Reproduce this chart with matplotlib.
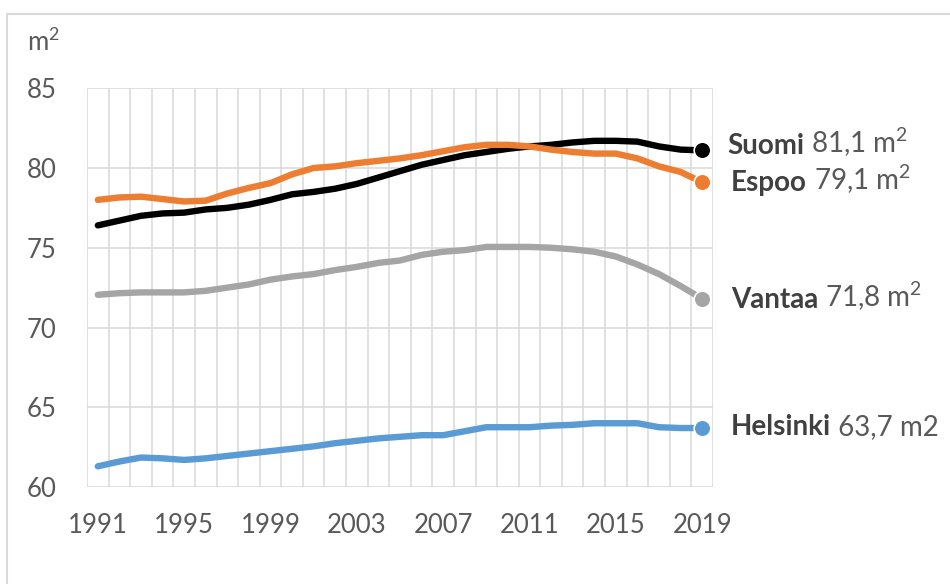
"""
Asumisväljyys (m2 / asunto), Suomi ja pääkaupunkiseudun kaupungit 1991-2019
"""

import matplotlib
matplotlib.use("Agg")
import matplotlib.pyplot as plt
from matplotlib.patches import Rectangle

years = list(range(1991, 2020))

suomi = [76.4, 76.7, 77.0, 77.15, 77.2, 77.4, 77.5, 77.7, 78.0, 78.35,
         78.5, 78.7, 79.0, 79.4, 79.8, 80.2, 80.5, 80.8, 81.0, 81.2,
         81.35, 81.45, 81.6, 81.7, 81.7, 81.65, 81.35, 81.15, 81.1]
espoo = [78.0, 78.15, 78.2, 78.05, 77.9, 77.95, 78.4, 78.75, 79.05, 79.6,
         80.0, 80.1, 80.3, 80.45, 80.6, 80.8, 81.05, 81.3, 81.45, 81.45,
         81.35, 81.15, 81.0, 80.9, 80.9, 80.6, 80.1, 79.75, 79.1]
vantaa = [72.05, 72.15, 72.2, 72.2, 72.2, 72.3, 72.5, 72.7, 73.0, 73.2,
          73.35, 73.6, 73.8, 74.05, 74.2, 74.55, 74.75, 74.85, 75.05, 75.05,
          75.05, 75.0, 74.9, 74.75, 74.45, 73.95, 73.35, 72.6, 71.8]
helsinki = [61.3, 61.6, 61.85, 61.8, 61.7, 61.8, 61.95, 62.1, 62.25, 62.4,
            62.55, 62.75, 62.9, 63.05, 63.15, 63.25, 63.25, 63.5, 63.75, 63.75,
            63.75, 63.85, 63.9, 64.0, 64.0, 64.0, 63.75, 63.7, 63.7]

names = ["Suomi", "Espoo", "Vantaa", "Helsinki"]
values = [r"81,1 $\mathregular{m^{2}}$", r"79,1 $\mathregular{m^{2}}$",
          r"71,8 $\mathregular{m^{2}}$", "63,7 m2"]
colors = ["#000000", "#ED7D31", "#A5A5A5", "#5B9BD5"]
xticks = [1991, 1995, 1999, 2003, 2007, 2011, 2015, 2019]
yticks = [60, 65, 70, 75, 80, 85]

plt.rcParams["font.family"] = ["Lato", "DejaVu Sans"]
plt.rcParams["mathtext.fontset"] = "custom"
plt.rcParams["mathtext.rm"] = "Lato"
txt_col = "#595959"

fig = plt.figure(figsize=(9.5, 5.84), dpi=100)
ax = fig.add_axes([0.0916, 0.166, 0.6589, 0.683])

# frame around the whole chart
fig.patches.append(Rectangle((7 / 950, -0.05), 1.1, 1 - 14 / 584 + 0.05,
                             transform=fig.transFigure, fill=False,
                             edgecolor="#d9d9d9", linewidth=1.5))

# grid: vertical lines between the categories
for b in range(1990, 2020):
    ax.axvline(b + 0.5, color="#d9d9d9", lw=1.1, zorder=0)
for t in yticks:
    ax.axhline(t, color="#d9d9d9", lw=1.1, zorder=0)

series = [suomi, espoo, vantaa, helsinki]
# draw order: helsinki, vantaa, suomi, espoo on top
for i in [3, 2, 0, 1]:
    ax.plot(years, series[i], color=colors[i], lw=4.6,
            solid_capstyle="round", solid_joinstyle="round", zorder=3)
    ax.plot(years[-1], series[i][-1], "o", color=colors[i], ms=12,
            mec="white", mew=1.2, zorder=4)

ax.set_xlim(1990.5, 2019.5)
ax.set_ylim(60, 85)
ax.set_xticks(xticks)
ax.set_yticks(yticks)
ax.tick_params(length=0, labelsize=18.5, labelcolor=txt_col)
ax.tick_params(axis="y", pad=22)
ax.tick_params(axis="x", pad=19)
for s in ax.spines.values():
    s.set_visible(False)

fig.text(27 / 950, 1 - 42 / 584, r"$\mathregular{m^{2}}$", fontsize=18.5,
         color=txt_col, va="center", ha="left")

# end labels
label_pos = [(727, 146), (731, 183), (731, 300), (731, 427)]
for i, (px, py) in enumerate(label_pos):
    b = fig.text(px / 950, 1 - py / 584, names[i], fontsize=20,
                 fontweight="bold", color="#404040", va="center", ha="left")
    ax.annotate(" " + values[i], xy=(1, 0), xycoords=b, va="bottom",
                ha="left", fontsize=20, color=txt_col,
                annotation_clip=False)

fig.savefig("out.png", dpi=100)
